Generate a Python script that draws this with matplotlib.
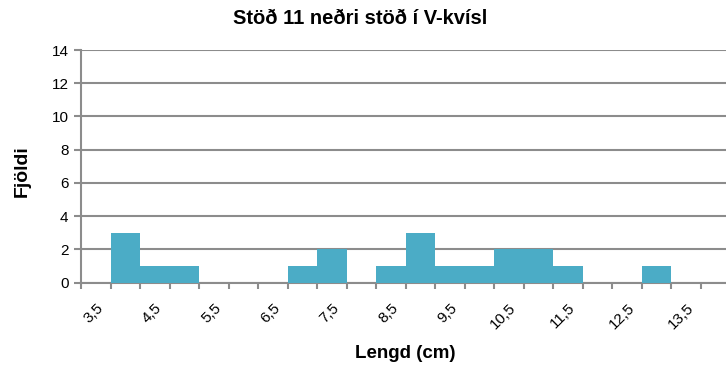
import matplotlib
matplotlib.use("Agg")
import matplotlib.pyplot as plt
import matplotlib.transforms as mtransforms
import numpy as np

# Data (0.5 cm bins)
lengths = ["3,5", "4", "4,5", "5", "5,5", "6", "6,5", "7", "7,5", "8", "8,5",
           "9", "9,5", "10", "10,5", "11", "11,5", "12", "12,5", "13", "13,5", "14"]
counts = [0, 3, 1, 1, 0, 0, 0, 1, 2, 0, 1, 3, 1, 1, 2, 2, 1, 0, 0, 1, 0, 0]

title = "Stöð 11 neðri stöð í V-kvísl"
xlabel = "Lengd (cm)"
ylabel = "Fjöldi"

plt.rcParams['font.family'] = ['Liberation Sans', 'DejaVu Sans']

fig = plt.figure(figsize=(7.26, 3.70), dpi=100)
ax = fig.add_axes([81/726, 1 - 282.7/370, (730.5 - 81)/726, (282.7 - 50)/370])

grey = "#8c8c8c"
x = np.arange(len(counts))
ax.bar(x, counts, width=1.0, color="#4BACC6", edgecolor="none", zorder=3)

ax.set_xlim(-0.5, len(counts) - 0.5)
ax.set_ylim(0, 14)
ax.set_yticks(range(0, 15, 2))
ax.yaxis.grid(True, color=grey, linewidth=1.5, zorder=0)
ax.tick_params(axis="y", length=5, width=1.5, color=grey, labelsize=11, pad=4)

# category labels every other bin, tick marks at bin edges
ax.set_xticks(x[::2])
ax.set_xticklabels(lengths[::2], rotation=45, ha="right", va="top",
                   rotation_mode="anchor", fontsize=11)
shift = mtransforms.ScaledTranslation(-4/100, 0, fig.dpi_scale_trans)
for lab in ax.get_xticklabels():
    lab.set_transform(lab.get_transform() + shift)
ax.set_xticks(np.arange(-0.5, len(counts) - 0.5, 1.0), minor=True)
ax.tick_params(axis="x", which="major", length=0, pad=13)
ax.tick_params(axis="x", which="minor", length=4, width=1.5, color=grey)

for side in ["top", "right"]:
    ax.spines[side].set_visible(False)
for side in ["left", "bottom"]:
    ax.spines[side].set_color(grey)
    ax.spines[side].set_linewidth(1.5)

fig.text(360/726, 1 - 19/370, title, ha="center", va="center",
         fontsize=14.5, fontweight="bold")
fig.text(405/726, 1 - 353/370, xlabel, ha="center", va="center",
         fontsize=13.5, fontweight="bold")
fig.text(22/726, 1 - 171/370, ylabel, rotation=90, ha="center", va="center",
         fontsize=14, fontweight="bold")

fig.savefig("out.png", dpi=100)
